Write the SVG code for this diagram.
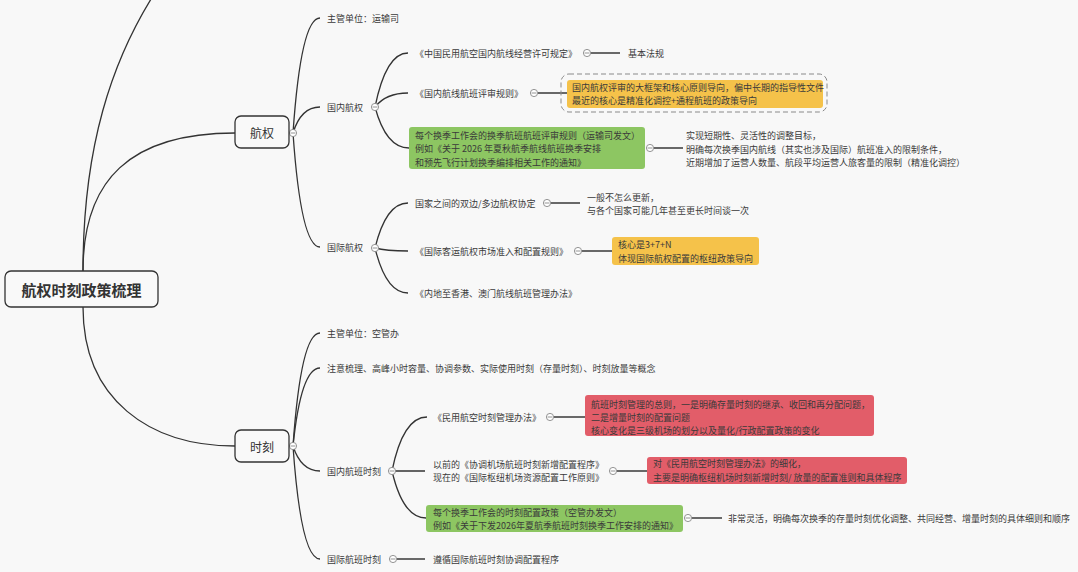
<svg xmlns="http://www.w3.org/2000/svg" width="1078" height="572" viewBox="0 0 1078 572">
<style>
text{font-family:"Noto Sans CJK SC","Noto Sans",sans-serif;font-size:9px;fill:#3a3a3a;dominant-baseline:central}
.c{fill:none;stroke:#333;stroke-width:1.3}
.l{fill:none;stroke:#444;stroke-width:1.6}
.node{fill:#f9f9f9;stroke:#333;stroke-width:1.3}
.k{fill:#fff;stroke:#888;stroke-width:0.9}
.km{stroke:#888;stroke-width:0.9}
.title{font-size:15px;font-weight:bold;fill:#333;text-anchor:middle}
.main{font-size:12px;fill:#333;text-anchor:middle}
.yel{fill:#f5c24a}
.grn{fill:#8dc662}
.red{fill:#e25d69}
</style>
<defs>
<g id="knob"><circle r="3.6" class="k"/><line x1="-2.4" y1="0" x2="2.4" y2="0" class="km"/></g>
</defs>
<rect width="1078" height="572" fill="#f8f8f8"/>

<g id="connectors">
<path class="c" d="M83 271 C83 150 110 60 160 -15"/>
<path class="c" d="M83 271 C83 180 130 133 235 133"/>
<path class="c" d="M83 307 C83 400 150 446 235 446"/>
<path class="c" d="M293 133 Q301 18 320 18"/>
<path class="c" d="M293 133 Q301 107 320 107"/>
<path class="c" d="M293 133 Q301 247 320 247"/>
<path class="c" d="M375 107 Q386 53 408 53"/>
<path class="c" d="M375 107 Q386 93 408 93"/>
<path class="c" d="M375 107 Q386 148 409 148"/>
<path class="c" d="M375 248 Q386 203 408 203"/>
<path class="c" d="M375 248 Q386 251 408 251"/>
<path class="c" d="M375 248 Q386 293 408 293"/>
<path class="c" d="M293 446 Q301 333 320 333"/>
<path class="c" d="M293 446 Q301 368 320 368"/>
<path class="c" d="M293 446 Q301 471 320 471"/>
<path class="c" d="M293 446 Q301 559 320 559"/>
<path class="c" d="M392 471 Q403 417 427 417"/>
<path class="c" d="M392 471 L425 471"/>
<path class="c" d="M392 471 Q403 518 426 518"/>
<path class="l" d="M591 53 H620"/>
<path class="l" d="M538 93 H567"/>
<path class="l" d="M654 148 H683"/>
<path class="l" d="M551 203 H580"/>
<path class="l" d="M582 251 H612"/>
<path class="l" d="M554 417 H585"/>
<path class="l" d="M617 471 H648"/>
<path class="l" d="M692 518 H722"/>
<path class="l" d="M397 559 H425"/>
<use href="#knob" x="293" y="133"/>
<use href="#knob" x="375" y="107"/>
<use href="#knob" x="375" y="248"/>
<use href="#knob" x="293" y="446"/>
<use href="#knob" x="392" y="471"/>
<use href="#knob" x="587" y="53"/>
<use href="#knob" x="534" y="93"/>
<use href="#knob" x="650" y="148"/>
<use href="#knob" x="547" y="203"/>
<use href="#knob" x="578" y="251"/>
<use href="#knob" x="550" y="417"/>
<use href="#knob" x="613" y="471"/>
<use href="#knob" x="688" y="518"/>
<use href="#knob" x="393" y="559"/>
</g>

<g id="root"><rect class="node" x="5" y="271" width="153" height="36" rx="6"/><text class="title" x="81.5" y="289.5">航权时刻政策梳理</text></g>
<g id="hangquan"><rect class="node" x="235" y="116" width="54" height="32" rx="6"/><text class="main" x="262" y="132.5">航权</text></g>
<g id="shike"><rect class="node" x="235" y="430" width="54" height="32" rx="6"/><text class="main" x="262" y="446">时刻</text></g>

<g id="hq-dept"><text x="327" y="18">主管单位：运输司</text></g>
<g id="hq-dom"><text x="327" y="107">国内航权</text></g>
<g id="hq-intl"><text x="327" y="247">国际航权</text></g>

<g id="dom-1"><text x="415" y="53">《中国民用航空国内航线经营许可规定》</text></g>
<g id="dom-1n"><text x="628" y="53">基本法规</text></g>
<g id="dom-2"><text x="415" y="93">《国内航线航班评审规则》</text></g>
<g id="dom-2n">
<rect x="561" y="74" width="266" height="38" rx="8" fill="none" stroke="#8a8a8a" stroke-width="1" stroke-dasharray="5 3"/>
<rect class="yel" x="567" y="80" width="256" height="28" rx="3"/>
<text x="572" y="87">国内航权评审的大框架和核心原则导向，偏中长期的指导性文件</text>
<text x="572" y="100">最近的核心是精准化调控+通程航班的政策导向</text>
</g>
<g id="dom-3">
<rect class="grn" x="409" y="127" width="236" height="42" rx="3"/>
<text x="415" y="135">每个换季工作会的换季航班航班评审规则（运输司发文）</text>
<text x="415" y="148.5">例如《关于 2026 年夏秋航季航线航班换季安排</text>
<text x="415" y="162">和预先飞行计划换季编排相关工作的通知》</text>
</g>
<g id="dom-3n">
<text x="686" y="135">实现短期性、灵活性的调整目标，</text>
<text x="686" y="149">明确每次换季国内航线（其实也涉及国际）航班准入的限制条件，</text>
<text x="686" y="162">近期增加了运营人数量、航段平均运营人旅客量的限制（精准化调控）</text>
</g>

<g id="intl-1"><text x="415" y="203">国家之间的双边/多边航权协定</text></g>
<g id="intl-1n"><text x="587" y="197">一般不怎么更新，</text><text x="587" y="210">与各个国家可能几年甚至更长时间谈一次</text></g>
<g id="intl-2"><text x="415" y="251">《国际客运航权市场准入和配置规则》</text></g>
<g id="intl-2n">
<rect class="yel" x="612" y="237" width="147" height="28" rx="3"/>
<text x="618" y="244">核心是3+7+N</text>
<text x="618" y="258">体现国际航权配置的枢纽政策导向</text>
</g>
<g id="intl-3"><text x="415" y="293">《内地至香港、澳门航线航班管理办法》</text></g>

<g id="sk-dept"><text x="327" y="333">主管单位：空管办</text></g>
<g id="sk-note"><text x="327" y="368">注意梳理、高峰小时容量、协调参数、实际使用时刻（存量时刻）、时刻放量等概念</text></g>
<g id="sk-dom"><text x="327" y="471">国内航班时刻</text></g>
<g id="sk-intl"><text x="327" y="559">国际航班时刻</text></g>

<g id="skd-1"><text x="433" y="417">《民用航空时刻管理办法》</text></g>
<g id="skd-1n">
<rect class="red" x="585" y="395" width="289" height="41" rx="3"/>
<text x="591" y="404">航班时刻管理的总则，一是明确存量时刻的继承、收回和再分配问题，</text>
<text x="591" y="417">二是增量时刻的配置问题</text>
<text x="591" y="430">核心变化是三级机场的划分以及量化/行政配置政策的变化</text>
</g>
<g id="skd-2"><text x="433" y="464">以前的《协调机场航班时刻新增配置程序》</text><text x="433" y="477">现在的《国际枢纽机场资源配置工作原则》</text></g>
<g id="skd-2n">
<rect class="red" x="647" y="457" width="260" height="27" rx="3"/>
<text x="653" y="463.5">对《民用航空时刻管理办法》的细化，</text>
<text x="653" y="477">主要是明确枢纽机场时刻新增时刻/ 放量的配置准则和具体程序</text>
</g>
<g id="skd-3">
<rect class="grn" x="426" y="505" width="257" height="27" rx="3"/>
<text x="433" y="512">每个换季工作会的时刻配置政策（空管办发文）</text>
<text x="433" y="525">例如《关于下发2026年夏航季航班时刻换季工作安排的通知》</text>
</g>
<g id="skd-3n"><text x="728" y="518">非常灵活，明确每次换季的存量时刻优化调整、共同经营、增量时刻的具体细则和顺序</text></g>
<g id="ski-1"><text x="433" y="559">遵循国际航班时刻协调配置程序</text></g>
</svg>
